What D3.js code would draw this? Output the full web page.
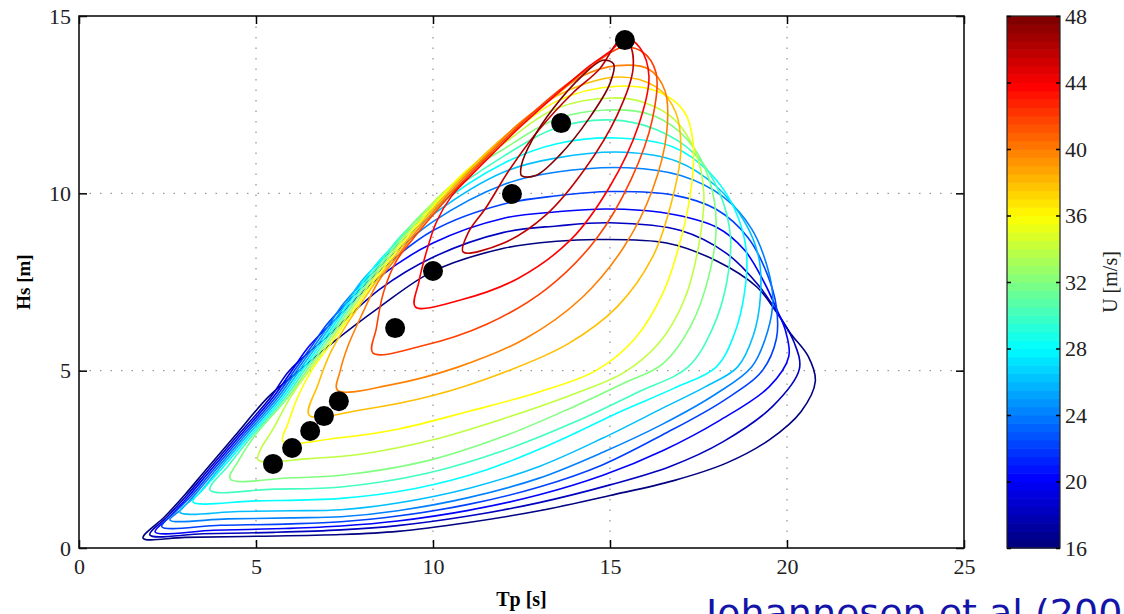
<!DOCTYPE html>
<html><head><meta charset="utf-8">
<script src="https://cdn.jsdelivr.net/npm/d3@7"></script>
<style>body{margin:0;background:#fff;overflow:hidden}</style>
</head><body>
<svg id="c" width="1124" height="614"></svg>
<script>
// ---------- data ----------
const xTicks = [0, 5, 10, 15, 20, 25];
const yTicks = [0, 5, 10, 15];
const cbTicks = [16, 20, 24, 28, 32, 36, 40, 44, 48];
const windLevels = [16, 18, 20, 22, 24, 26, 28, 30, 32, 34, 36, 38, 40, 42, 44, 46, 48];

// contour lines [Tp, Hs], one per wind speed
const c16 = [[1.81,0.28],[3.0,0.3],[5.0,0.33],[7.4,0.38],[9.0,0.47],[11.0,0.72],[13.0,1.05],[15.0,1.48],[16.8,1.9],[18.3,2.4],[19.5,3.05],[20.4,3.85],[20.8,4.7],[20.6,5.4],[20.1,6.05],[19.7,6.65],[19.15,7.36],[18.0,8.1],[16.6,8.6],[14.7,8.7],[13.5,8.65],[12.0,8.45],[10.0,7.8],[8.5,6.8],[7.0,5.66],[6.1,4.9],[5.35,4.26],[4.41,3.17],[3.58,2.2],[2.99,1.5],[2.42,0.88]];
const c18 = [[2.0,0.37],[3.5,0.4],[5.5,0.44],[7.4,0.51],[9.0,0.63],[11.0,0.9],[13.0,1.28],[15.0,1.78],[16.7,2.3],[18.2,3.0],[19.6,4.0],[20.35,5.05],[20.2,5.8],[19.75,6.6],[19.2,7.4],[18.3,8.3],[17.0,8.95],[15.0,9.17],[13.5,9.08],[12.0,8.9],[10.0,8.2],[8.5,7.3],[7.0,5.95],[5.94,5.0],[5.42,4.26],[4.48,3.17],[3.65,2.2],[3.06,1.5],[2.49,0.88]];
const c20 = [[2.15,0.45],[3.8,0.5],[5.8,0.55],[7.4,0.62],[9.0,0.76],[11.0,1.06],[13.0,1.5],[14.8,2.05],[16.5,2.75],[18.1,3.6],[19.5,4.55],[20.05,5.4],[19.95,6.15],[19.7,6.75],[19.35,7.5],[18.8,8.4],[18.0,9.05],[16.6,9.44],[14.9,9.56],[13.5,9.48],[12.0,9.3],[10.0,8.6],[8.5,7.65],[7.3,6.5],[6.51,5.7],[6.01,5.0],[5.49,4.26],[4.55,3.17],[3.72,2.2],[3.13,1.5],[2.56,0.88]];
const c22 = [[2.34,0.6],[4.0,0.64],[6.0,0.68],[7.4,0.74],[9.0,0.9],[11.0,1.23],[13.0,1.72],[14.8,2.35],[16.5,3.2],[18.2,4.15],[19.3,5.0],[19.7,5.9],[19.7,6.8],[19.45,7.7],[18.9,8.75],[18.0,9.55],[16.8,9.95],[15.0,10.05],[13.5,9.93],[12.0,9.7],[10.0,8.95],[8.5,7.82],[7.6,6.95],[7.0,6.3],[6.58,5.7],[6.08,5.0],[5.56,4.26],[4.62,3.17],[3.79,2.2],[3.2,1.5],[2.7,1.0]];
const c24 = [[2.57,0.79],[4.2,0.82],[6.0,0.85],[7.4,0.88],[9.0,1.05],[11.0,1.42],[13.0,1.97],[14.8,2.7],[16.5,3.5],[18.0,4.35],[19.0,5.1],[19.45,6.1],[19.6,7.0],[19.45,7.9],[19.0,9.0],[18.2,9.9],[17.0,10.5],[15.5,10.72],[13.5,10.6],[12.0,10.25],[10.0,9.2],[8.5,7.95],[7.48,6.9],[7.07,6.3],[6.65,5.7],[6.15,5.0],[5.63,4.26],[4.69,3.17],[3.86,2.2],[3.27,1.5],[2.9,1.1]];
const c26 = [[2.85,1.01],[4.5,1.03],[6.0,1.05],[7.4,1.08],[9.0,1.27],[11.0,1.68],[13.0,2.3],[14.8,3.1],[16.5,3.95],[17.7,4.55],[18.6,5.1],[19.05,6.0],[19.25,7.1],[19.2,8.2],[18.8,9.2],[18.0,10.2],[16.9,10.9],[15.4,11.16],[13.5,11.0],[12.0,10.6],[10.0,9.4],[8.5,8.07],[7.96,7.5],[7.55,6.9],[7.14,6.3],[6.72,5.7],[6.22,5.0],[5.7,4.26],[4.76,3.17],[3.93,2.2],[3.4,1.55]];
const c28 = [[3.22,1.3],[5.0,1.33],[7.4,1.4],[9.5,1.68],[11.5,2.2],[13.5,3.0],[15.3,3.85],[16.8,4.5],[18.0,5.1],[18.5,6.0],[18.8,7.2],[18.85,8.4],[18.5,9.6],[17.8,10.6],[16.8,11.3],[15.2,11.56],[13.5,11.4],[12.0,10.85],[10.0,9.55],[8.48,8.1],[8.03,7.5],[7.62,6.9],[7.21,6.3],[6.79,5.7],[6.29,5.0],[5.77,4.26],[4.83,3.17],[4.0,2.2],[3.55,1.7]];
const c30 = [[3.7,1.64],[5.5,1.66],[7.4,1.72],[9.8,2.1],[12.0,2.75],[14.0,3.55],[15.8,4.4],[17.2,5.1],[17.9,6.2],[18.3,7.5],[18.4,8.8],[18.1,10.0],[17.4,11.1],[16.3,11.8],[15.0,12.07],[13.5,11.85],[12.0,11.05],[10.0,9.65],[9.0,8.7],[8.55,8.1],[8.1,7.5],[7.69,6.9],[7.28,6.3],[6.86,5.7],[6.36,5.0],[5.84,4.26],[4.9,3.17],[4.2,2.3]];
const c32 = [[4.27,1.95],[6.0,1.98],[7.4,2.05],[9.8,2.45],[12.0,3.15],[13.9,3.95],[15.4,4.65],[16.5,5.2],[17.3,6.3],[17.8,7.7],[18.0,9.1],[17.8,10.4],[17.2,11.5],[16.2,12.2],[14.9,12.35],[13.5,12.1],[12.0,11.25],[11.0,10.6],[9.57,9.3],[9.07,8.7],[8.62,8.1],[8.17,7.5],[7.76,6.9],[7.35,6.3],[6.93,5.7],[6.43,5.0],[5.91,4.26],[4.97,3.17],[4.5,2.45]];
const c34 = [[5.06,2.48],[6.5,2.52],[8.0,2.65],[10.0,3.05],[12.0,3.65],[14.0,4.35],[15.4,4.95],[16.4,5.8],[17.1,7.0],[17.5,8.5],[17.65,10.0],[17.4,11.2],[16.8,12.1],[16.0,12.55],[15.1,12.69],[13.5,12.4],[12.0,11.4],[10.16,9.9],[9.64,9.3],[9.14,8.7],[8.69,8.1],[8.24,7.5],[7.83,6.9],[7.42,6.3],[7.0,5.7],[6.5,5.0],[5.98,4.26],[5.45,3.3],[5.14,2.8]];
const c36 = [[5.76,3.0],[7.3,3.1],[9.0,3.35],[11.0,3.85],[13.0,4.4],[14.6,5.0],[15.7,5.9],[16.5,7.2],[17.0,8.7],[17.3,10.2],[17.35,11.4],[17.1,12.3],[16.4,12.85],[15.2,13.02],[13.5,12.6],[12.0,11.5],[10.79,10.5],[10.23,9.9],[9.71,9.3],[9.21,8.7],[8.76,8.1],[8.31,7.5],[7.9,6.9],[7.49,6.3],[7.07,5.7],[6.57,5.0],[6.2,4.3],[5.9,3.5]];
const c38 = [[6.5,3.75],[8.0,3.9],[10.0,4.3],[12.0,4.95],[13.8,5.75],[15.2,6.8],[16.2,8.2],[16.75,9.8],[17.0,11.2],[16.85,12.3],[16.3,13.0],[15.2,13.28],[13.5,12.75],[12.5,12.0],[11.56,11.2],[10.86,10.5],[10.3,9.9],[9.78,9.3],[9.28,8.7],[8.83,8.1],[8.38,7.5],[7.97,6.9],[7.56,6.3],[7.1,5.5],[6.75,4.6]];
const c40 = [[7.3,4.45],[8.8,4.6],[10.7,5.1],[12.6,5.9],[14.2,7.05],[15.4,8.5],[16.2,10.1],[16.6,11.7],[16.55,12.9],[16.1,13.5],[15.2,13.6],[14.2,13.3],[13.5,12.79],[12.35,11.9],[11.63,11.2],[10.93,10.5],[10.37,9.9],[9.85,9.3],[9.35,8.7],[8.9,8.1],[8.45,7.5],[8.0,6.6],[7.6,5.7],[7.38,5.0]];
const c42 = [[8.3,5.5],[9.7,5.7],[11.5,6.3],[13.2,7.3],[14.6,8.7],[15.6,10.4],[16.2,12.1],[16.3,13.4],[15.9,14.0],[15.3,14.1],[14.3,13.45],[13.31,12.7],[12.42,11.9],[11.7,11.2],[11.0,10.5],[10.44,9.9],[9.92,9.3],[9.42,8.7],[8.97,8.1],[8.6,7.2],[8.4,6.2]];
const c44 = [[9.5,6.8],[10.8,7.0],[12.4,7.6],[13.9,8.7],[15.0,10.2],[15.8,11.9],[16.1,13.3],[15.85,14.1],[15.45,14.37],[15.0,14.0],[14.43,13.6],[13.38,12.7],[12.49,11.9],[11.77,11.2],[11.07,10.5],[10.51,9.9],[10.1,9.2],[9.8,8.3],[9.6,7.5]];
const c46 = [[10.85,8.35],[12.0,8.6],[13.2,9.4],[14.3,10.7],[15.2,12.2],[15.65,13.5],[15.55,14.2],[15.3,14.33],[14.7,13.5],[13.95,12.83],[13.0,11.8],[12.15,10.65],[11.5,9.6],[11.0,8.9]];
const c48 = [[12.5,10.5],[12.9,10.5],[13.6,11.1],[14.4,12.1],[15.0,13.1],[15.1,13.65],[14.8,13.75],[14.2,13.3],[13.4,12.4],[12.8,11.5],[12.5,10.8]];
const contourLines = [c16,c18,c20,c22,c24,c26,c28,c30,c32,c34,c36,c38,c40,c42,c44,c46,c48];

// black markers
const dotTp = [5.48, 6.02, 6.53, 6.92, 7.34, 8.93, 10.0, 12.23, 13.62, 15.42];
const dotHs = [2.37, 2.82, 3.30, 3.72, 4.14, 6.20, 7.81, 9.98, 11.98, 14.32];

// ---------- drawing ----------
const svg = d3.select('#c');
const L = 79, T = 16, W = 885, H = 532;
const x = d3.scaleLinear().domain([0, 25]).range([L, L + W]);
const y = d3.scaleLinear().domain([0, 15]).range([T + H, T]);
const uNorm = d3.scaleLinear().domain([16, 48]).range([0, 1]);
const cl = v => Math.max(0, Math.min(1, v));
function jet(t) {
  const r = cl(Math.min(4*t - 1.5, -4*t + 4.5));
  const g = cl(Math.min(4*t - 0.5, -4*t + 3.5));
  const b = cl(Math.min(4*t + 0.5, -4*t + 2.5));
  return d3.rgb(r*255, g*255, b*255).toString();
}

svg.append('defs').append('clipPath').attr('id','pc')
  .append('rect').attr('x',L).attr('y',T).attr('width',W).attr('height',H);

// grid
const grid = svg.append('g').attr('stroke','#9a9a9a').attr('stroke-width',1.3).attr('stroke-dasharray','1.5,9');
grid.selectAll('.gx').data(xTicks.slice(1,-1)).enter().append('line')
  .attr('x1',d=>x(d)).attr('x2',d=>x(d)).attr('y1',T).attr('y2',T+H);
grid.selectAll('.gy').data(yTicks.slice(1,-1)).enter().append('line')
  .attr('y1',d=>y(d)).attr('y2',d=>y(d)).attr('x1',L).attr('x2',L+W);

// contours
const line = d3.line().x(d=>x(d[0])).y(d=>y(d[1])).curve(d3.curveCatmullRomClosed.alpha(0.5));
svg.append('g').attr('clip-path','url(#pc)').selectAll('path')
  .data(contourLines).enter().append('path')
  .attr('d', line)
  .attr('fill','none')
  .attr('stroke',(d,i)=>jet(uNorm(windLevels[i])))
  .attr('stroke-width',1.6);

// dots
svg.append('g').selectAll('circle').data(dotTp).enter().append('circle')
  .attr('cx',(d)=>x(d)).attr('cy',(d,i)=>y(dotHs[i])).attr('r',10).attr('fill','#000');

// axes (ticks inside, MATLAB style)
const fnt = '"Liberation Serif", "Times New Roman", serif';
function styleAxis(g){
  g.select('.domain').remove();
  g.selectAll('line').attr('stroke','#000').attr('stroke-width',1.5);
  g.selectAll('text').attr('font-family',fnt).attr('font-size',22).attr('fill','#222');
}
svg.append('g').attr('transform',`translate(0,${T+H})`)
  .call(d3.axisBottom(x).tickValues(xTicks).tickSize(-8).tickPadding(10).tickFormat(d3.format('d'))).call(styleAxis);
svg.append('g').attr('transform',`translate(0,${T})`)
  .call(d3.axisTop(x).tickValues(xTicks).tickSize(-8).tickFormat('')).call(styleAxis);
svg.append('g').attr('transform',`translate(${L},0)`)
  .call(d3.axisLeft(y).tickValues(yTicks).tickSize(-8).tickPadding(8).tickFormat(d3.format('d'))).call(styleAxis);
svg.append('g').attr('transform',`translate(${L+W},0)`)
  .call(d3.axisRight(y).tickValues(yTicks).tickSize(-8).tickFormat('')).call(styleAxis);

svg.append('rect').attr('x',L).attr('y',T).attr('width',W).attr('height',H)
  .attr('fill','none').attr('stroke','#111').attr('stroke-width',1.6);

// axis labels
svg.append('text').attr('x',x(12.5)).attr('y',606).attr('text-anchor','middle')
  .attr('font-family',fnt).attr('font-weight','bold').attr('font-size',20).text('Tp [s]');
svg.append('text').attr('transform',`translate(30,${T+H/2}) rotate(-90)`).attr('text-anchor','middle')
  .attr('font-family',fnt).attr('font-weight','bold').attr('font-size',19).text('Hs [m]');

// colorbar
const cbX = 1007, cbW = 53;
const cy = d3.scaleLinear().domain([16, 48]).range([T + H, T]);
const nBands = 64;
const bands = d3.range(nBands);
svg.append('g').selectAll('rect').data(bands).enter().append('rect')
  .attr('x',cbX).attr('width',cbW)
  .attr('y',i=>cy(16 + (i+1)*32/nBands))
  .attr('height',i=>cy(16 + i*32/nBands) - cy(16 + (i+1)*32/nBands) + 0.6)
  .attr('fill',i=>jet(i/(nBands-1)));
svg.append('rect').attr('x',cbX).attr('y',T).attr('width',cbW).attr('height',H)
  .attr('fill','none').attr('stroke','#222').attr('stroke-width',1.2);
const cbAxis = svg.append('g').attr('transform',`translate(${cbX+cbW},0)`)
  .call(d3.axisRight(cy).tickValues(cbTicks).tickSize(-4).tickPadding(5).tickFormat(d3.format('d')));
cbAxis.select('.domain').remove();
cbAxis.selectAll('line').attr('stroke','#000').attr('stroke-width',1.5);
cbAxis.selectAll('text').attr('font-family',fnt).attr('font-size',22).attr('fill','#222');
const cbAxisL = svg.append('g').attr('transform',`translate(${cbX},0)`)
  .call(d3.axisLeft(cy).tickValues(cbTicks).tickSize(-4).tickFormat(''));
cbAxisL.select('.domain').remove();
cbAxisL.selectAll('line').attr('stroke','#000').attr('stroke-width',1.5);
svg.append('text').attr('transform',`translate(1117,${282}) rotate(-90)`).attr('text-anchor','middle')
  .attr('font-family',fnt).attr('font-size',20).attr('fill','#222').text('U [m/s]');

// citation
svg.append('text').attr('x',706).attr('y',626).attr('font-family','"DejaVu Sans", Verdana, sans-serif')
  .attr('font-size',38).attr('fill','#1414a8').text('Johannesen et al (2001)');
</script>
</body></html>
